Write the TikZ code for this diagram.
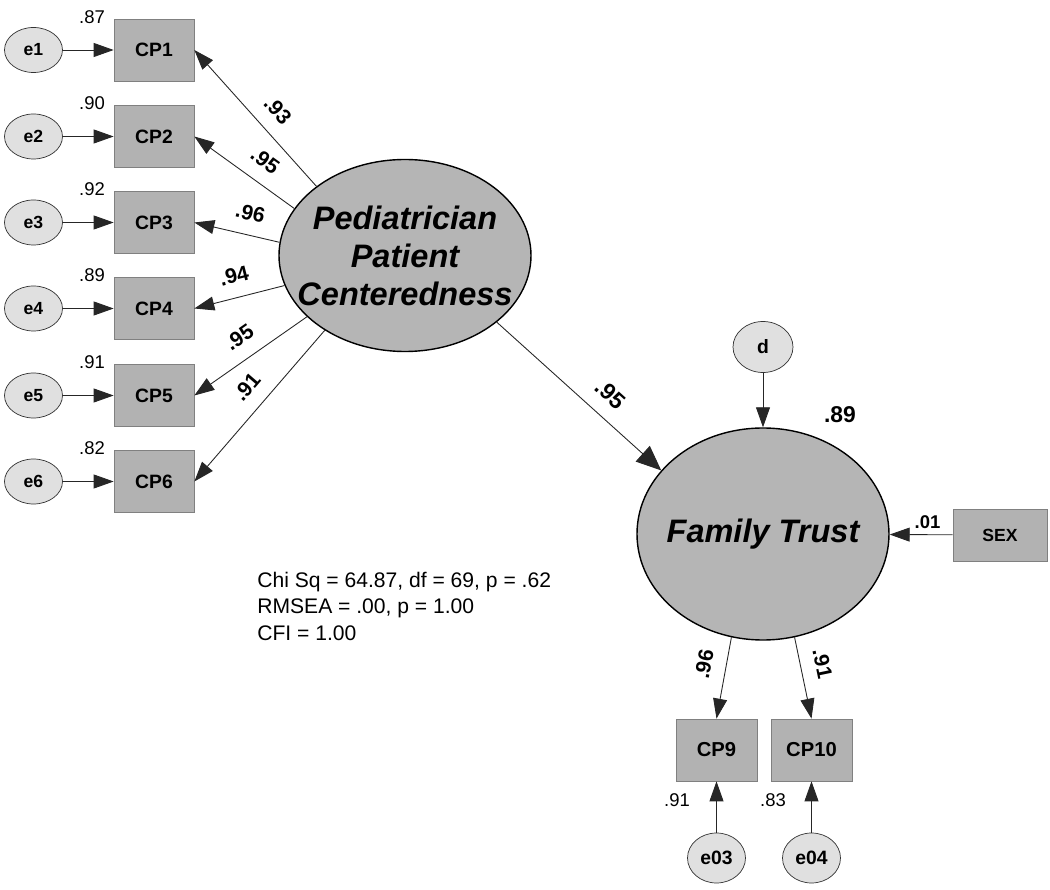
\documentclass[tikz,border=0pt]{standalone}
\usepackage{fontspec}
\setmainfont{Liberation Sans}
\usetikzlibrary{arrows.meta,shapes.geometric}

\definecolor{boxgray}{HTML}{B2B2B2}
\definecolor{errgray}{HTML}{E0E0E0}
\definecolor{latgray}{HTML}{B5B5B5}

\begin{document}
\begin{tikzpicture}[
    obs/.style={draw=black!50, fill=boxgray, minimum width=1.6cm, minimum height=1.24cm, inner sep=0pt, font=\bfseries\fontsize{11}{13}\selectfont},
    err/.style={ellipse, draw=black!80, fill=errgray, minimum width=1.16cm, minimum height=0.9cm, inner sep=0pt, font=\bfseries\fontsize{10}{12}\selectfont},
    lat/.style={ellipse, draw, fill=latgray, line width=0.8pt, inner sep=0pt, minimum width=5.04cm},
    bigtext/.style={font=\bfseries\itshape\fontsize{18.5}{21.6}\selectfont, align=center},
    arr/.style={-{Triangle[length=0.4cm,width=0.28cm]}, draw=black!85, line width=0.5pt},
    bigarr/.style={-{Triangle[length=0.5cm,width=0.42cm]}, draw=black!85, line width=0.5pt},
    coef/.style={font=\bfseries\fontsize{12}{14}\selectfont, sloped, above=7pt, inner sep=1pt},
    varlbl/.style={font=\fontsize{10.5}{12}\selectfont, inner sep=0pt}
]
    \useasboundingbox (0,0) rectangle (21,17.8);

    % measurement part of the left factor
    \node[err] (e1) at (0.67,16.8) {e1};
    \node[obs] (cp1) at (3.08,16.8) {CP1};
    \node[varlbl] (v1) at (1.84,17.46) {.87};
    \node[err] (e2) at (0.67,15.07) {e2};
    \node[obs] (cp2) at (3.08,15.07) {CP2};
    \node[varlbl] (v2) at (1.84,15.73) {.90};
    \node[err] (e3) at (0.67,13.35) {e3};
    \node[obs] (cp3) at (3.08,13.35) {CP3};
    \node[varlbl] (v3) at (1.84,14.01) {.92};
    \node[err] (e4) at (0.67,11.63) {e4};
    \node[obs] (cp4) at (3.08,11.63) {CP4};
    \node[varlbl] (v4) at (1.84,12.29) {.89};
    \node[err] (e5) at (0.67,9.89) {e5};
    \node[obs] (cp5) at (3.08,9.89) {CP5};
    \node[varlbl] (v5) at (1.84,10.55) {.91};
    \node[err] (e6) at (0.67,8.17) {e6};
    \node[obs] (cp6) at (3.08,8.17) {CP6};
    \node[varlbl] (v6) at (1.84,8.83) {.82};

    % latent variables
    \node[lat, minimum height=3.84cm, label={[bigtext]center:{Pediatrician\\Patient\\Centeredness}}] (ppc) at (8.1,12.69) {};
    \node[lat, minimum height=4.24cm, label={[bigtext]center:{Family Trust}}] (ft) at (15.26,7.12) {};
    \node[err, minimum width=1.2cm, minimum height=1.02cm, font=\bfseries\fontsize{11}{13}\selectfont] (d) at (15.26,10.86) {d};
    \node[obs, minimum width=1.88cm, minimum height=1.04cm, font=\bfseries\fontsize{10}{12}\selectfont] (sex) at (20.0,7.1) {SEX};
    \node[font=\bfseries\fontsize{13}{15}\selectfont] (r2) at (16.8,9.5) {.89};

    % right indicators
    \node[obs, minimum width=1.62cm, font=\bfseries\fontsize{11.5}{13}\selectfont] (cp9) at (14.33,2.8) {CP9};
    \node[obs, minimum width=1.62cm, font=\bfseries\fontsize{11.5}{13}\selectfont] (cp10) at (16.23,2.8) {CP10};
    \node[err, minimum height=1.0cm, font=\bfseries\fontsize{11}{13}\selectfont] (e03) at (14.33,0.64) {e03};
    \node[err, minimum height=1.0cm, font=\bfseries\fontsize{11}{13}\selectfont] (e04) at (16.23,0.64) {e04};
    \node[varlbl] (v9) at (13.54,1.8) {.91};
    \node[varlbl] (v10) at (15.46,1.8) {.83};

    % fit
    \node[anchor=north west, align=left, inner sep=0pt, font=\fontsize{12}{15}\selectfont] (fit) at (5.14,6.36)
        {Chi Sq = 64.87, df = 69, p = .62\\RMSEA = .00, p = 1.00\\CFI = 1.00};

    % paths
    \draw[arr] (e1) -- (cp1);
    \draw[arr] (e2) -- (cp2);
    \draw[arr] (e3) -- (cp3);
    \draw[arr] (e4) -- (cp4);
    \draw[arr] (e5) -- (cp5);
    \draw[arr] (e6) -- (cp6);
    \draw[arr] (ppc.142) -- node[coef, pos=0.45] {.93} (cp1.east);
    \draw[arr] (ppc.157) -- node[coef, pos=0.42] {.95} (cp2.east);
    \draw[arr] (ppc.174) -- node[coef, pos=0.4] {.96} (cp3.east);
    \draw[arr] (ppc.194) -- node[coef, pos=0.5] {.94} (cp4.east);
    \draw[arr] (ppc.212) -- node[coef, pos=0.49] {.95} (cp5.east);
    \draw[arr] (ppc.223) -- node[coef, pos=0.47] {.91} (cp6.east);
    \draw[bigarr] (ppc.-36) -- node[coef, pos=0.6, font=\bfseries\fontsize{13}{15}\selectfont] {.95} (ft.148);
    \draw[arr] (d) -- (ft);
    \draw[arr] (sex) -- node[above, pos=0.4, font=\bfseries\fontsize{10.5}{12}\selectfont] {.01} (ft);
    \draw[arr] (ft.-107) -- node[coef, pos=0.38] {.96} (cp9.north);
    \draw[arr] (ft.-73) -- node[coef, pos=0.38] {.91} (cp10.north);
    \draw[arr] (e03) -- (cp9);
    \draw[arr] (e04) -- (cp10);
\end{tikzpicture}
\end{document}
